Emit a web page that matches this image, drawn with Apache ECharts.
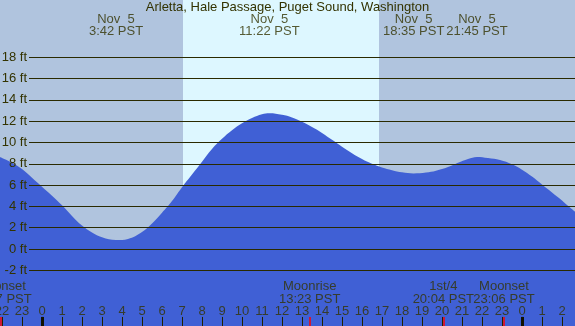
<!DOCTYPE html>
<html>
<head>
<meta charset="utf-8">
<script src="https://cdn.jsdelivr.net/npm/echarts@6/dist/echarts.min.js"></script>
<style>html,body{margin:0;padding:0;}#c{width:575px;height:326px;}</style>
</head>
<body>
<div id="c"></div>
<script>
// ---- data (hours from Nov 5 00:00 PST) ----
const tideHours = [-2.1,-1.5,-1,-0.5,0,0.5,1,1.5,2,2.5,3,3.7,4.3,5,5.5,6,6.5,7,7.5,8,8.5,9,9.5,10,10.5,11,11.37,12,12.5,13,13.5,14,14.5,15,15.5,16,16.5,17,17.5,18,18.58,19.2,19.7,20.3,20.8,21.3,21.75,22.3,22.9,23.5,24,24.5,25,25.5,26,26.3,26.65];
const tideFeet  = [8.65,8.1,7.5,6.7,5.85,5.0,4.1,3.1,2.2,1.55,1.1,0.84,0.95,1.6,2.4,3.4,4.5,5.8,7.0,8.2,9.4,10.35,11.15,11.8,12.3,12.65,12.75,12.6,12.35,11.95,11.45,10.9,10.25,9.6,9.0,8.45,8.0,7.65,7.4,7.2,7.1,7.18,7.35,7.7,8.1,8.45,8.65,8.55,8.35,7.95,7.45,6.8,6.05,5.3,4.55,4.05,3.5];
const sunrise = 7.05, sunset = 16.85;
const extremeHours = [3.7, 11.367, 18.583, 21.75];
const extremeDates = ['Nov  5','Nov  5','Nov  5','Nov  5'];
const extremeTimes = ['3:42 PST','11:22 PST','18:35 PST','21:45 PST'];
const moonHours = [-2.05, 13.383, 20.067, 23.1];
const moonNames = ['Moonset','Moonrise','1st/4','Moonset'];
const moonTimes = ['21:57 PST','13:23 PST','20:04 PST','23:06 PST'];
const midnightHours = [0, 24];
const yTickValues = [-2,0,2,4,6,8,10,12,14,16,18];
const hourTicks = [-2,-1,0,1,2,3,4,5,6,7,8,9,10,11,12,13,14,15,16,17,18,19,20,21,22,23,24,25,26];
const titleText = 'Arletta, Hale Passage, Puget Sound, Washington';

// ---- layout / style ----
const X_MIN = -2.1, X_MAX = 26.65;
const Y_MIN = -7.23, Y_MAX = 23.38;
const TXT = '#333300';
const FONT = 'Liberation Sans, Arial, sans-serif';
const NIGHT = '#B0C4DE', DAY = '#DDF7FF', FILL = '#4060D5';
const GRID_X0 = -0.65;   // grid lines start just right of y labels
const TOP_Y = 20.95;     // vertical position of high/low labels
const MOON_Y = -4.14;    // vertical position of moon labels
const HOUR_Y = -5.87;    // vertical position of hour labels
const TICK_TOP = -6.38;

const chart = echarts.init(document.getElementById('c'), null, {renderer: 'canvas'});
const tide = tideHours.map((h, i) => [h, tideFeet[i]]);
const seg = (h, color, width) => [{coord: [h, TICK_TOP], lineStyle: {color: color, width: width, type: 'solid'}}, {coord: [h, Y_MIN]}];

chart.setOption({
  animation: false,
  backgroundColor: NIGHT,
  textStyle: {fontFamily: FONT},
  title: {
    text: titleText, left: 'center', top: 0, padding: 0,
    textStyle: {fontSize: 13, fontWeight: 'normal', color: TXT, fontFamily: FONT, lineHeight: 14}
  },
  grid: {left: 0, right: 0, top: 0, bottom: 0, containLabel: false, outerBoundsMode: 'none'},
  xAxis: {
    type: 'value', min: X_MIN, max: X_MAX,
    splitLine: {show: false}, axisLine: {show: false},
    axisTick: {show: false}, axisLabel: {show: false}
  },
  yAxis: {
    type: 'value', min: Y_MIN, max: Y_MAX, offset: -29, z: 20,
    splitLine: {show: false},
    axisLine: {show: false}, axisTick: {show: false},
    axisLabel: {show: true, margin: 2, customValues: yTickValues, color: TXT,
                fontSize: 13, fontFamily: FONT, formatter: v => v + ' ft'}
  },
  series: [
    {
      type: 'line', z: 1, data: [], silent: true,
      markArea: {silent: true, itemStyle: {color: DAY},
                 data: [[{xAxis: sunrise}, {xAxis: sunset}]]}
    },
    {
      type: 'line', z: 2, data: tide, smooth: 0.4, showSymbol: false, silent: true,
      lineStyle: {width: 0}, areaStyle: {color: FILL, opacity: 1, origin: 'start'}
    },
    {
      type: 'line', z: 3, data: [], silent: true,
      markLine: {
        silent: true, symbol: 'none', label: {show: false},
        lineStyle: {color: '#2a2a00', width: 1, type: 'solid'},
        data: yTickValues.map(v => [{coord: [GRID_X0, v]}, {coord: [X_MAX, v]}])
      }
    },
    {
      type: 'line', z: 4, data: [], silent: true,
      markLine: {
        silent: true, symbol: 'none', label: {show: false},
        data: hourTicks.map(h => seg(h, '#222200', 1))
          .concat(midnightHours.map(h => seg(h, '#111100', 3)))
          .concat(moonHours.map(h => seg(h, '#ff0000', 1.5)))
      }
    },
    {
      type: 'scatter', z: 5, symbolSize: 0, silent: true,
      data: hourTicks.map(h => ({value: [h, HOUR_Y], name: String(((h % 24) + 24) % 24)})),
      label: {show: true, position: 'inside', formatter: p => p.name, color: TXT,
              fontSize: 13, fontFamily: FONT, align: 'center', verticalAlign: 'middle'}
    },
    {
      type: 'scatter', z: 5, symbolSize: 0, silent: true,
      data: extremeHours.map((h, i) => ({value: [h, TOP_Y], name: extremeDates[i] + '\n' + extremeTimes[i]})),
      label: {show: true, position: 'inside', formatter: p => p.name, color: TXT,
              fontSize: 13, fontFamily: FONT, lineHeight: 12, align: 'center', verticalAlign: 'middle'}
    },
    {
      type: 'scatter', z: 5, symbolSize: 0, silent: true,
      data: moonHours.map((h, i) => ({value: [h, MOON_Y], name: moonNames[i] + '\n' + moonTimes[i]})),
      label: {show: true, position: 'inside', formatter: p => p.name, color: TXT,
              fontSize: 13, fontFamily: FONT, lineHeight: 12.5, align: 'center', verticalAlign: 'middle'}
    }
  ]
});
</script>
</body>
</html>
